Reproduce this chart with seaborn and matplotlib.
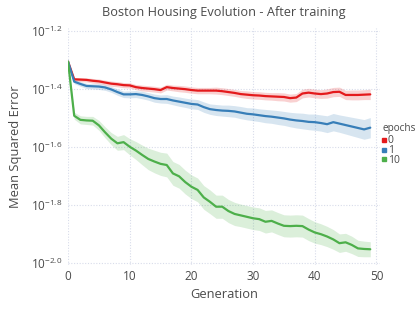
import numpy as np
import pandas as pd
import seaborn as sns
import matplotlib.pyplot as plt
from matplotlib.lines import Line2D

# log10(MSE) per generation
generations = list(range(50))
epochs = ["0", "1", "10"]

log_mse_0 = [-1.306, -1.367, -1.368, -1.369, -1.372, -1.374, -1.378, -1.382, -1.384, -1.387,
             -1.388, -1.394, -1.397, -1.399, -1.401, -1.404, -1.394, -1.397, -1.399, -1.401,
             -1.404, -1.406, -1.406, -1.406, -1.406, -1.408, -1.411, -1.414, -1.418, -1.420,
             -1.422, -1.423, -1.425, -1.426, -1.427, -1.428, -1.432, -1.430, -1.416, -1.413,
             -1.416, -1.418, -1.416, -1.411, -1.410, -1.421, -1.421, -1.421, -1.420, -1.419]
log_mse_1 = [-1.306, -1.375, -1.383, -1.390, -1.391, -1.392, -1.395, -1.402, -1.411, -1.419,
             -1.419, -1.418, -1.421, -1.426, -1.432, -1.435, -1.435, -1.440, -1.444, -1.448,
             -1.452, -1.454, -1.463, -1.470, -1.473, -1.475, -1.476, -1.478, -1.482, -1.486,
             -1.488, -1.491, -1.494, -1.496, -1.499, -1.502, -1.506, -1.509, -1.511, -1.514,
             -1.515, -1.518, -1.522, -1.515, -1.520, -1.525, -1.530, -1.535, -1.540, -1.534]
log_mse_10 = [-1.306, -1.493, -1.507, -1.509, -1.510, -1.526, -1.550, -1.572, -1.588, -1.584,
              -1.600, -1.613, -1.628, -1.642, -1.651, -1.659, -1.663, -1.692, -1.702, -1.722,
              -1.738, -1.749, -1.775, -1.790, -1.807, -1.807, -1.822, -1.832, -1.837, -1.842,
              -1.847, -1.850, -1.859, -1.856, -1.865, -1.873, -1.874, -1.873, -1.874, -1.886,
              -1.896, -1.902, -1.910, -1.920, -1.933, -1.930, -1.939, -1.951, -1.953, -1.954]

# half width of the shaded band, in log10 units
band_0 = [0.002, 0.006, 0.007, 0.007, 0.008, 0.008, 0.008, 0.009, 0.009, 0.009,
          0.009, 0.009, 0.010, 0.010, 0.010, 0.010, 0.010, 0.010, 0.011, 0.011,
          0.011, 0.011, 0.011, 0.011, 0.012, 0.012, 0.012, 0.012, 0.012, 0.013,
          0.013, 0.013, 0.013, 0.013, 0.014, 0.014, 0.014, 0.014, 0.015, 0.015,
          0.015, 0.015, 0.016, 0.016, 0.016, 0.016, 0.017, 0.017, 0.017, 0.018]
band_1 = [0.002, 0.007, 0.008, 0.009, 0.009, 0.010, 0.010, 0.010, 0.011, 0.011,
          0.012, 0.012, 0.013, 0.013, 0.014, 0.014, 0.015, 0.015, 0.016, 0.016,
          0.017, 0.017, 0.018, 0.018, 0.019, 0.019, 0.020, 0.020, 0.021, 0.021,
          0.022, 0.022, 0.023, 0.023, 0.024, 0.024, 0.025, 0.026, 0.027, 0.027,
          0.028, 0.028, 0.029, 0.030, 0.030, 0.031, 0.032, 0.033, 0.034, 0.035]
band_10 = [0.002, 0.012, 0.014, 0.014, 0.015, 0.017, 0.019, 0.021, 0.024, 0.026,
           0.028, 0.031, 0.034, 0.037, 0.039, 0.040, 0.041, 0.041, 0.041, 0.041,
           0.041, 0.041, 0.041, 0.041, 0.040, 0.040, 0.040, 0.040, 0.039, 0.039,
           0.039, 0.039, 0.039, 0.038, 0.038, 0.038, 0.038, 0.038, 0.038, 0.038,
           0.037, 0.036, 0.035, 0.034, 0.032, 0.031, 0.030, 0.028, 0.027, 0.026]

colors = {"0": "#e41a1c", "1": "#377eb8", "10": "#4daf4a"}

df = pd.DataFrame({
    "Generation": generations * 3,
    "epochs": [e for e in epochs for _ in generations],
    "log_mse": log_mse_0 + log_mse_1 + log_mse_10,
    "band": band_0 + band_1 + band_10,
})
df["mse"] = 10 ** df["log_mse"]
df["lo"] = 10 ** (df["log_mse"] - df["band"])
df["hi"] = 10 ** (df["log_mse"] + df["band"])

sns.set_style("white")
plt.rcParams["font.family"] = ["Open Sans", "DejaVu Sans"]
plt.rcParams["mathtext.fontset"] = "custom"
plt.rcParams["mathtext.rm"] = "Open Sans"
plt.rcParams["mathtext.it"] = "Open Sans"
text_col = "#4a4a4a"

fig = plt.figure(figsize=(4.15, 3.12), dpi=100)
ax = fig.add_axes([0.164, 0.151, 0.752, 0.759])

for e in epochs:
    d = df[df["epochs"] == e]
    ax.fill_between(d["Generation"], d["lo"], d["hi"], color=colors[e], alpha=0.2, lw=0)
sns.lineplot(data=df, x="Generation", y="mse", hue="epochs", palette=colors,
             linewidth=1.6, legend=False, ax=ax, errorbar=None)

ax.set_yscale("log")
ax.set_xlim(0, 50.6)
ax.set_ylim(10 ** -2.008, 10 ** -1.19)
ax.set_xticks([0, 10, 20, 30, 40, 50])
yt = [-2.0, -1.8, -1.6, -1.4, -1.2]
ax.set_yticks([10 ** v for v in yt])
ax.set_yticklabels([r"$10^{%.1f}$" % v for v in yt])
ax.minorticks_off()
ax.grid(True, color="#d8dcea", linestyle=(0, (1, 1.5)), linewidth=0.8)
for s in ax.spines.values():
    s.set_visible(False)
ax.tick_params(length=0, labelsize=8.5, colors=text_col, pad=4)

ax.set_xlabel("Generation", fontsize=9.3, color=text_col, labelpad=3)
ax.set_ylabel("Mean Squared Error", fontsize=9.3, color=text_col, labelpad=6)
ax.set_title("Boston Housing Evolution - After training", fontsize=9.2, color=text_col, pad=9)

# legend title drawn on its own so the item rows can sit tight under it
fig.text(0.921, 0.589, "epochs", fontsize=7.2, color=text_col, va="center", ha="left")
handles = [Line2D([], [], marker="s", linestyle="", color=colors[e], markersize=3) for e in epochs]
leg = fig.legend(handles, epochs, loc="upper left", bbox_to_anchor=(0.918, 0.566),
                 frameon=False, fontsize=7.5, handletextpad=0.15,
                 labelspacing=-0.12, handlelength=0.5, borderaxespad=0, borderpad=0)
for t in leg.get_texts():
    t.set_color(text_col)

fig.savefig("out.png", dpi=100)
